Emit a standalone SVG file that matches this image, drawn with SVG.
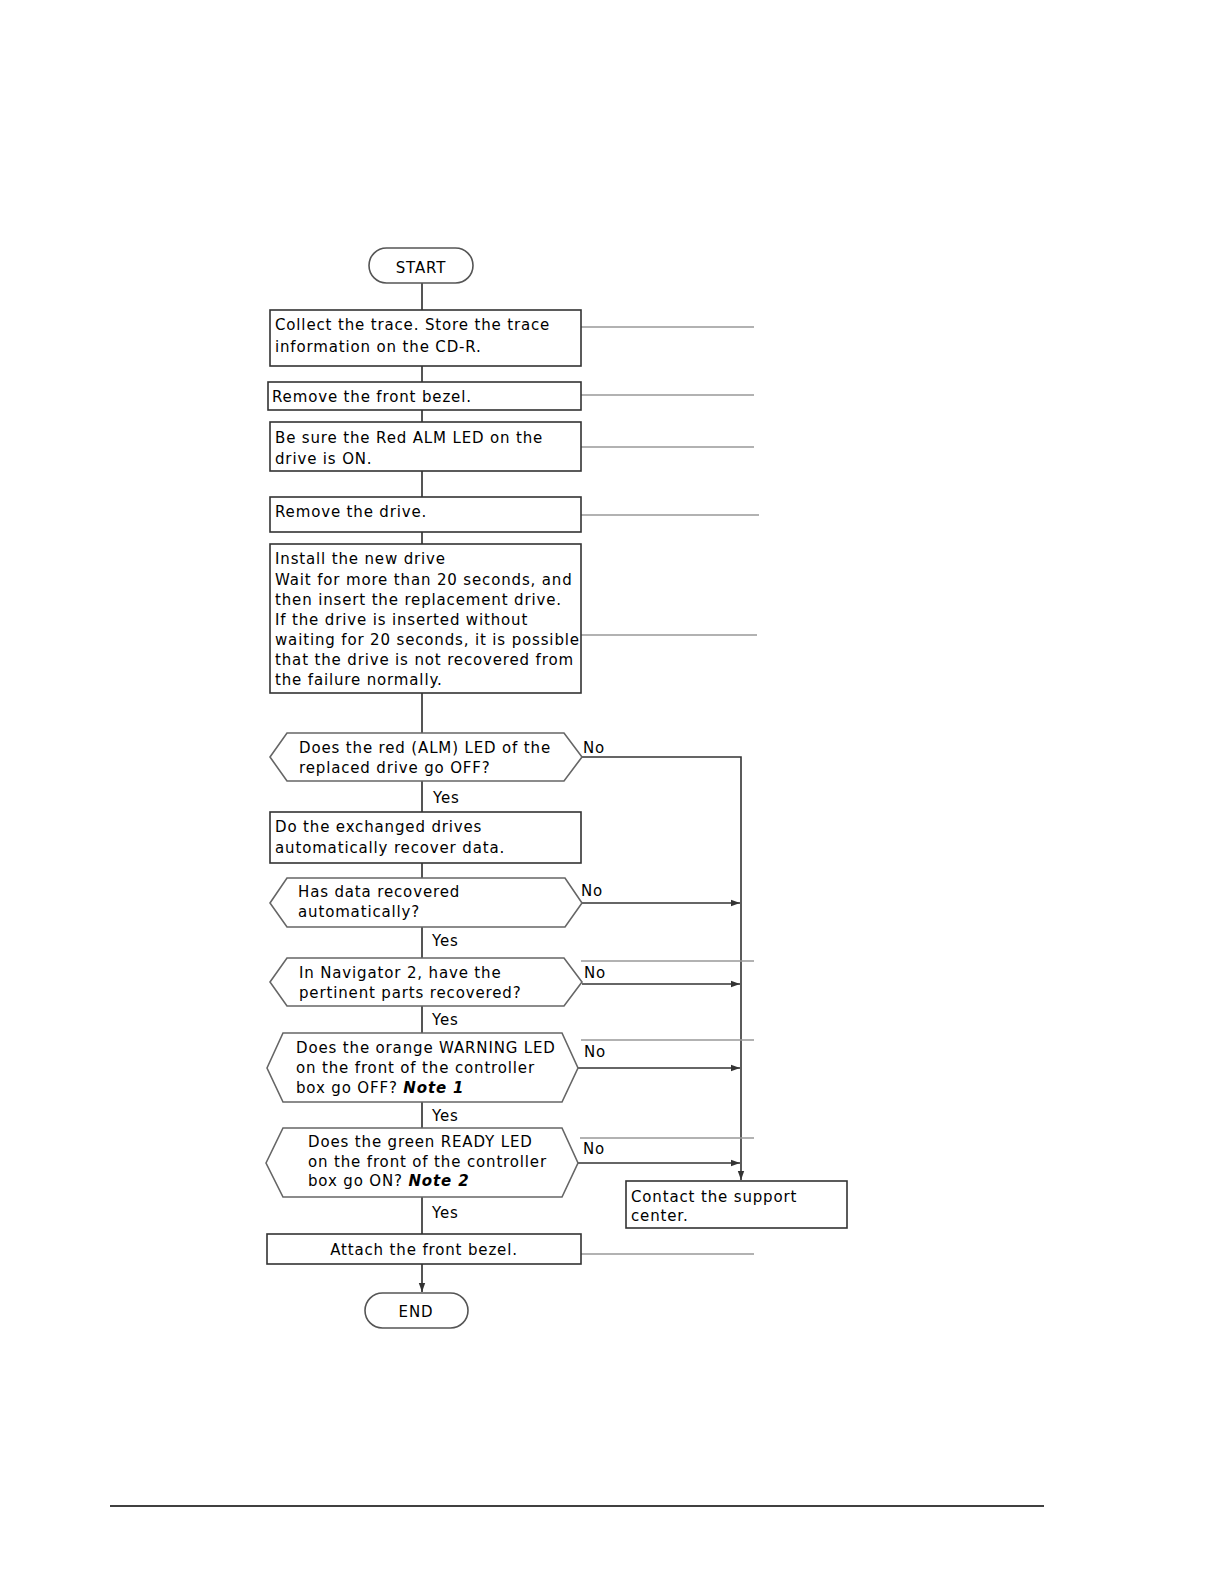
<svg xmlns="http://www.w3.org/2000/svg" width="1224" height="1584" viewBox="0 0 1224 1584">
<defs>
<style>
text{font-family:"DejaVu Sans","Verdana",sans-serif;font-size:15px;letter-spacing:0.85px;fill:#000}
.box{fill:#fff;stroke:#333;stroke-width:1.6}
.hex{fill:#fff;stroke:#666;stroke-width:1.6}
.term{fill:#fff;stroke:#555;stroke-width:1.6}
.flow{stroke:#555;stroke-width:2;fill:none}
.side{stroke:#999;stroke-width:1.4;fill:none}
.no{stroke:#333;stroke-width:1.6;fill:none}
.note{font-weight:bold;font-style:italic}
.mid{text-anchor:middle}
</style>
<marker id="ah" markerWidth="10" markerHeight="8" refX="9" refY="4" orient="auto" markerUnits="userSpaceOnUse">
<path d="M0,0.8 L9,4 L0,7.2 Z" fill="#333"/>
</marker>
</defs>
<rect width="1224" height="1584" fill="#fff"/>

<g id="connectors">
<line class="flow" x1="422" y1="283" x2="422" y2="310"/>
<line class="flow" x1="422" y1="366" x2="422" y2="382"/>
<line class="flow" x1="422" y1="410" x2="422" y2="422"/>
<line class="flow" x1="422" y1="471" x2="422" y2="497"/>
<line class="flow" x1="422" y1="532" x2="422" y2="544"/>
<line class="flow" x1="422" y1="693" x2="422" y2="733"/>
<line class="flow" x1="422" y1="781" x2="422" y2="812"/>
<line class="flow" x1="422" y1="863" x2="422" y2="878"/>
<line class="flow" x1="422" y1="927" x2="422" y2="958"/>
<line class="flow" x1="422" y1="1006" x2="422" y2="1033"/>
<line class="flow" x1="422" y1="1102" x2="422" y2="1128"/>
<line class="flow" x1="422" y1="1197" x2="422" y2="1234"/>
<line class="flow" x1="422" y1="1264" x2="422" y2="1292" marker-end="url(#ah)"/>
<polyline class="no" points="582,757 741,757 741,1180" marker-end="url(#ah)"/>
<line class="no" x1="582" y1="903" x2="740" y2="903" marker-end="url(#ah)"/>
<line class="no" x1="582" y1="984" x2="740" y2="984" marker-end="url(#ah)"/>
<line class="no" x1="578" y1="1068" x2="740" y2="1068" marker-end="url(#ah)"/>
<line class="no" x1="578" y1="1163" x2="740" y2="1163" marker-end="url(#ah)"/>
<line class="side" x1="581" y1="327" x2="754" y2="327"/>
<line class="side" x1="581" y1="395" x2="754" y2="395"/>
<line class="side" x1="581" y1="447" x2="754" y2="447"/>
<line class="side" x1="581" y1="515" x2="759" y2="515"/>
<line class="side" x1="581" y1="635" x2="757" y2="635"/>
<line class="side" x1="581" y1="961" x2="754" y2="961"/>
<line class="side" x1="581" y1="1040" x2="754" y2="1040"/>
<line class="side" x1="580" y1="1138" x2="754" y2="1138"/>
<line class="side" x1="581" y1="1254" x2="754" y2="1254"/>
<text x="583" y="753">No</text>
<text x="581" y="896">No</text>
<text x="584" y="978">No</text>
<text x="584" y="1057">No</text>
<text x="583" y="1154">No</text>
<text x="433" y="803">Yes</text>
<text x="432" y="946">Yes</text>
<text x="432" y="1025">Yes</text>
<text x="432" y="1121">Yes</text>
<text x="432" y="1218">Yes</text>
</g>

<g id="start">
<rect class="term" x="369" y="248" width="104" height="35" rx="17.5"/>
<text class="mid" x="421" y="273">START</text>
</g>
<g id="collect">
<rect class="box" x="270" y="310" width="311" height="56"/>
<text x="275" y="330">Collect the trace. Store the trace</text>
<text x="275" y="352">information on the CD-R.</text>
</g>
<g id="remove-bezel">
<rect class="box" x="268" y="382" width="313" height="28"/>
<text x="272" y="402">Remove the front bezel.</text>
</g>
<g id="be-sure">
<rect class="box" x="270" y="422" width="311" height="49"/>
<text x="275" y="443">Be sure the Red ALM LED on the</text>
<text x="275" y="464">drive is ON.</text>
</g>
<g id="remove-drive">
<rect class="box" x="270" y="497" width="311" height="35"/>
<text x="275" y="517">Remove the drive.</text>
</g>
<g id="install">
<rect class="box" x="270" y="544" width="311" height="149"/>
<text x="275" y="564">Install the new drive</text>
<text x="275" y="585">Wait for more than 20 seconds, and</text>
<text x="275" y="605">then insert the replacement drive.</text>
<text x="275" y="625">If the drive is inserted without</text>
<text x="275" y="645">waiting for 20 seconds, it is possible</text>
<text x="275" y="665">that the drive is not recovered from</text>
<text x="275" y="685">the failure normally.</text>
</g>
<g id="q-red-led">
<polygon class="hex" points="270,757 287,733 564,733 582,757 564,781 287,781"/>
<text x="299" y="753">Does the red (ALM) LED of the</text>
<text x="299" y="773">replaced drive go OFF?</text>
</g>
<g id="exchanged">
<rect class="box" x="270" y="812" width="311" height="51"/>
<text x="275" y="832">Do the exchanged drives</text>
<text x="275" y="853">automatically recover data.</text>
</g>
<g id="q-data">
<polygon class="hex" points="270,903 287,878 565,878 582,903 565,927 287,927"/>
<text x="298" y="897">Has data recovered</text>
<text x="298" y="917">automatically?</text>
</g>
<g id="q-navigator">
<polygon class="hex" points="270,982 287,958 564,958 582,982 564,1006 287,1006"/>
<text x="299" y="978">In Navigator 2, have the</text>
<text x="299" y="998">pertinent parts recovered?</text>
</g>
<g id="q-warning">
<polygon class="hex" points="267,1068 283,1033 562,1033 578,1068 562,1102 283,1102"/>
<text x="296" y="1053">Does the orange WARNING LED</text>
<text x="296" y="1073">on the front of the controller</text>
<text x="296" y="1093">box go OFF? <tspan class="note">Note 1</tspan></text>
</g>
<g id="q-ready">
<polygon class="hex" points="266,1163 283,1128 562,1128 578,1163 562,1197 283,1197"/>
<text x="308" y="1147">Does the green READY LED</text>
<text x="308" y="1167">on the front of the controller</text>
<text x="308" y="1186">box go ON? <tspan class="note">Note 2</tspan></text>
</g>
<g id="contact">
<rect class="box" x="626" y="1181" width="221" height="47"/>
<text x="631" y="1202">Contact the support</text>
<text x="631" y="1221">center.</text>
</g>
<g id="attach">
<rect class="box" x="267" y="1234" width="314" height="30"/>
<text class="mid" x="424" y="1255">Attach the front bezel.</text>
</g>
<g id="end">
<rect class="term" x="365" y="1293" width="103" height="35" rx="17.5"/>
<text class="mid" x="416" y="1317">END</text>
</g>
<line x1="110" y1="1506" x2="1044" y2="1506" stroke="#000" stroke-width="1.5"/>
</svg>
